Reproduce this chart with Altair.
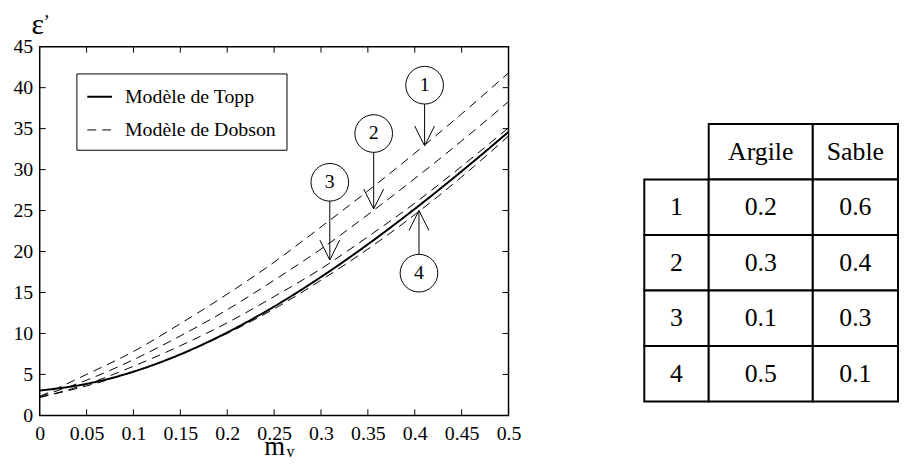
import altair as alt
import pandas as pd

# ---------------- data ----------------
mv = [0, 0.05, 0.1, 0.15, 0.2, 0.25, 0.3, 0.35, 0.4, 0.45, 0.5]
topp = [3.03, 3.85, 5.34, 7.45, 10.12, 13.28, 16.89, 20.88, 25.2, 29.79, 34.6]
dobson_1 = [2.3, 5.0, 7.8, 11.2, 14.8, 18.7, 23.0, 27.4, 32.0, 36.8, 41.8]
dobson_2 = [2.3, 4.3, 6.8, 9.7, 12.9, 16.5, 20.3, 24.5, 28.9, 33.5, 38.3]
dobson_3 = [2.2, 3.8, 6.0, 8.5, 11.3, 14.5, 17.9, 21.8, 25.9, 30.4, 35.1]
dobson_4 = [2.2, 3.6, 5.3, 7.4, 10.0, 13.0, 16.5, 20.3, 24.5, 29.1, 34.1]
models = ["Modèle de Topp", "Modèle de Dobson"]

x_labels = [0, 0.05, 0.1, 0.15, 0.2, 0.25, 0.3, 0.35, 0.4, 0.45, 0.5]
y_labels = [0, 5, 10, 15, 20, 25, 30, 35, 40, 45]
x_ticks = [0.05, 0.1, 0.15, 0.2, 0.25, 0.3, 0.35, 0.4, 0.45]
y_ticks = [5, 10, 15, 20, 25, 30, 35, 40]

ann_id = ["1", "2", "3", "4"]
ann_x = [0.4105, 0.3562, 0.3094, 0.4045]
ann_circle_y = [40.3, 34.4, 28.45, 17.36]
ann_tip_y = [32.9, 25.2, 18.97, 25.0]
ann_dir = ["down", "down", "down", "up"]

tab_ids = ["1", "2", "3", "4"]
tab_argile = ["0.2", "0.3", "0.1", "0.5"]
tab_sable = ["0.6", "0.4", "0.3", "0.1"]
tab_headers = ["Argile", "Sable"]

# ---------------- layout ----------------
W, H = 473, 372
FONT = "Liberation Serif"
COL_EDGES = [0, 65, 170, 256]
ROW_H = 56

rows = []
for name, vals, model in [("topp", topp, models[0]), ("d1", dobson_1, models[1]),
                          ("d2", dobson_2, models[1]), ("d3", dobson_3, models[1]),
                          ("d4", dobson_4, models[1])]:
    for xv, yv in zip(mv, vals):
        rows.append({"curve": name, "model": model, "mv": xv, "eps": yv})
df = pd.DataFrame(rows)

xs = alt.Scale(domain=[0, 0.5], nice=False, zero=False)
ys = alt.Scale(domain=[0, 45], nice=False)
x_axis = alt.Axis(values=x_labels, format="~g", title=None, ticks=False, domain=False,
                  grid=False, labelPadding=8, labelFlush=False, labelFont=FONT,
                  labelFontSize=20, labelColor="black")
y_axis = alt.Axis(values=y_labels, title=None, ticks=False, domain=False, grid=False,
                  labelPadding=7, labelFlush=False, labelFont=FONT, labelFontSize=20,
                  labelColor="black")


def X(f):
    return alt.X(f, type="quantitative", scale=xs, axis=x_axis)


def Y(f):
    return alt.Y(f, type="quantitative", scale=ys, axis=y_axis)


lines = alt.Chart(df).mark_line(interpolate="monotone", color="black").encode(
    x=X("mv"), y=Y("eps"), detail="curve:N",
    strokeDash=alt.StrokeDash("model:N", scale=alt.Scale(domain=models, range=[[1, 0], [9, 6]]),
                              legend=alt.Legend(title=None, orient="none", legendX=37, legendY=27,
                                                direction="vertical", strokeColor="black",
                                                fillColor="white", padding=10, symbolType="stroke",
                                                symbolSize=625, symbolStrokeWidth=2,
                                                symbolStrokeColor="black", labelFont=FONT,
                                                labelFontSize=20, labelOffset=12, rowPadding=10,
                                                labelColor="black")),
    strokeWidth=alt.StrokeWidth("model:N", scale=alt.Scale(domain=models, range=[2, 1]), legend=None),
)

xt = pd.DataFrame({"mv": x_ticks})
yt = pd.DataFrame({"eps": y_ticks})
tick_b = alt.Chart(xt).mark_rule(color="black").encode(x=X("mv"), y=alt.value(H), y2=alt.value(H - 6))
tick_t = alt.Chart(xt).mark_rule(color="black").encode(x=X("mv"), y=alt.value(0), y2=alt.value(6))
tick_l = alt.Chart(yt).mark_rule(color="black").encode(y=Y("eps"), x=alt.value(0), x2=alt.value(6))
tick_r = alt.Chart(yt).mark_rule(color="black").encode(y=Y("eps"), x=alt.value(W), x2=alt.value(W - 6))

ann = pd.DataFrame({"id": ann_id, "x": ann_x, "cy": ann_circle_y, "ty": ann_tip_y, "dir": ann_dir})
arrows = alt.Chart(ann).mark_rule(color="black", strokeWidth=1).encode(x=X("x"), y=Y("cy"), y2="ty:Q")
heads = alt.Chart(ann).mark_point(filled=False, color="black", size=1600, strokeWidth=1, opacity=1).encode(
    x=X("x"), y=Y("ty"),
    shape=alt.Shape("dir:N", scale=alt.Scale(domain=["down", "up"],
                                             range=["M-0.5,-1L0,0L0.5,-1", "M-0.5,1L0,0L0.5,1"]),
                    legend=None))
circles = alt.Chart(ann).mark_point(shape="circle", size=1444, filled=True, fill="white",
                                    stroke="black", strokeWidth=1, opacity=1).encode(x=X("x"), y=Y("cy"))
circ_txt = alt.Chart(ann).mark_text(font=FONT, fontSize=20, color="black", baseline="middle").encode(
    x=X("x"), y=Y("cy"), text="id:N")

eps_t = alt.Chart(pd.DataFrame({"t": ["ε"]})).mark_text(font=FONT, fontSize=30, color="black",
                                                        baseline="alphabetic").encode(
    text="t:N", x=alt.value(-2), y=alt.value(-13))
eps_p = alt.Chart(pd.DataFrame({"t": ["’"]})).mark_text(font=FONT, fontSize=18, color="black",
                                                        baseline="alphabetic").encode(
    text="t:N", x=alt.value(7), y=alt.value(-19))
m_t = alt.Chart(pd.DataFrame({"t": ["m"]})).mark_text(font=FONT, fontSize=27, color="black",
                                                      baseline="alphabetic").encode(
    text="t:N", x=alt.value(237), y=alt.value(412))
v_t = alt.Chart(pd.DataFrame({"t": ["v"]})).mark_text(font=FONT, fontSize=16, color="black",
                                                      baseline="alphabetic").encode(
    text="t:N", x=alt.value(253), y=alt.value(414))

plot = alt.layer(lines, tick_b, tick_t, tick_l, tick_r, arrows, heads, circles, circ_txt,
                 eps_t, eps_p, m_t, v_t)

# ---------------- table ----------------
cells = []
for c, h in enumerate(tab_headers, start=1):
    cells.append({"c": c, "r": 0, "t": h})
for r in range(4):
    cells.append({"c": 0, "r": r + 1, "t": tab_ids[r]})
    cells.append({"c": 1, "r": r + 1, "t": tab_argile[r]})
    cells.append({"c": 2, "r": r + 1, "t": tab_sable[r]})
tdf = pd.DataFrame(cells)
tdf["x1"] = [COL_EDGES[c] for c in tdf["c"]]
tdf["x2"] = [COL_EDGES[c + 1] for c in tdf["c"]]
tdf["y1"] = tdf["r"] * ROW_H
tdf["y2"] = (tdf["r"] + 1) * ROW_H
tdf["xc"] = (tdf["x1"] + tdf["x2"]) / 2
tdf["yc"] = (tdf["y1"] + tdf["y2"]) / 2

txs = alt.Scale(domain=[0, COL_EDGES[-1]], range=[610, 866], nice=False, zero=False)
tys = alt.Scale(domain=[0, 5 * ROW_H], range=[78, 358], nice=False, zero=False)
t_rect = alt.Chart(tdf).mark_rect(fill="white", stroke="black", strokeWidth=2).encode(
    x=alt.X("x1:Q", scale=txs, axis=None), x2="x2:Q",
    y=alt.Y("y1:Q", scale=tys, axis=None), y2="y2:Q")
t_text = alt.Chart(tdf).mark_text(font=FONT, fontSize=26, color="black", baseline="middle").encode(
    x=alt.X("xc:Q", scale=txs, axis=None), y=alt.Y("yc:Q", scale=tys, axis=None), text="t:N")
table = alt.layer(t_rect, t_text)

chart = alt.layer(plot, table).resolve_scale(x="independent", y="independent").properties(
    width=W, height=H,
    autosize=alt.AutoSizeParams(type="none"),
    padding={"left": 32, "top": 37, "right": 395, "bottom": 46},
).configure_view(stroke="black", strokeWidth=1.5)

chart.save("out.html", embed_options={"renderer": "svg", "actions": False})
